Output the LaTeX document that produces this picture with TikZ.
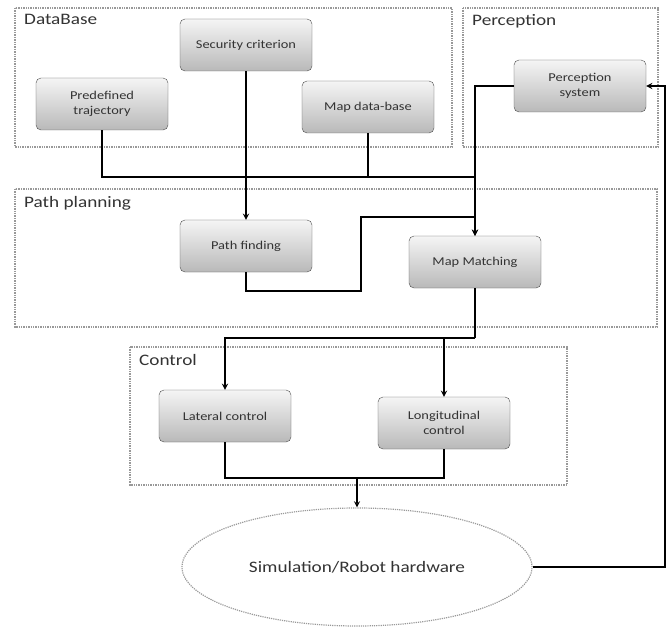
\documentclass[tikz,border=0pt]{standalone}
\usepackage{fontspec}
\setmainfont{Carlito}[FakeStretch=1.2]
\usetikzlibrary{shapes.geometric,arrows}

\begin{document}
\begin{tikzpicture}[x=1pt,y=-1pt,>=stealth,
    blk/.style={rectangle, rounded corners=5pt, draw=gray!60!black, top color=gray!8,
      bottom color=gray!55, minimum width=132pt, minimum height=52pt, align=center,
      text=black!80, font=\fontsize{12}{15}\selectfont},
    grp/.style={draw=gray!80, densely dotted, line width=1.4pt},
    lbl/.style={anchor=north west, inner sep=0pt, text=black!80, font=\fontsize{16}{18}\selectfont},
    line/.style={line width=1.7pt}]
  \useasboundingbox (0,0) rectangle (671,628);
  \draw[grp] (15,8) rectangle (452,147);
  \draw[grp] (463,8) rectangle (658,147);
  \draw[grp] (15,189) rectangle (657,327);
  \draw[grp] (130,347) rectangle (567,485);
  \node[lbl] (dbl) at (24,14) {DataBase};
  \node[lbl] (pcl) at (472,14) {Perception};
  \node[lbl] (ppl) at (24,196) {Path planning};
  \node[lbl] (ctl) at (139,354) {Control};
  \node[blk] (SC) at (246,45) {Security criterion};
  \node[blk] (PT) at (102,104) {Predefined\\trajectory};
  \node[blk] (MD) at (368,107) {Map data-base};
  \node[blk] (PS) at (580,86) {Perception\\system};
  \node[blk] (PF) at (246,246) {Path finding};
  \node[blk] (MM) at (475,262) {Map Matching};
  \node[blk] (LC) at (225,416) {Lateral control};
  \node[blk] (LG) at (444,423) {Longitudinal\\control};
  \node[ellipse, draw=gray!80, densely dotted, line width=1.2pt, minimum width=350pt,
    minimum height=118pt, text=black!80, font=\fontsize{16}{18}\selectfont]
    (SIM) at (357,567) {Simulation/Robot hardware};
  \coordinate (J1) at (475,177);
  \coordinate (K1) at (361,291);
  \coordinate (K2) at (361,217);
  \coordinate (J2) at (475,338);
  \coordinate (J3) at (357,478);
  \coordinate (J4) at (665,86);
  \draw[line] (PT.south) |- (J1);
  \draw[line] (MD.south) -- (MD.south |- J1);
  \draw[line,->] (PS.west) -| (MM.north);
  \draw[line,->] (SC.south) -- (PF.north);
  \draw[line,->] (PF.south) |- (K1) -- (K2) -| (MM.north);
  \draw[line] (MM.south) -- (J2);
  \draw[line,->] (J2) -| (LC.north);
  \draw[line,->] (J2) -| (LG.north);
  \draw[line] (LC.south) |- (J3);
  \draw[line] (LG.south) |- (J3);
  \draw[line,->] (J3) -- (SIM.north);
  \draw[line,->] (SIM.east) -| (J4) -- (PS.east);
\end{tikzpicture}
\end{document}
